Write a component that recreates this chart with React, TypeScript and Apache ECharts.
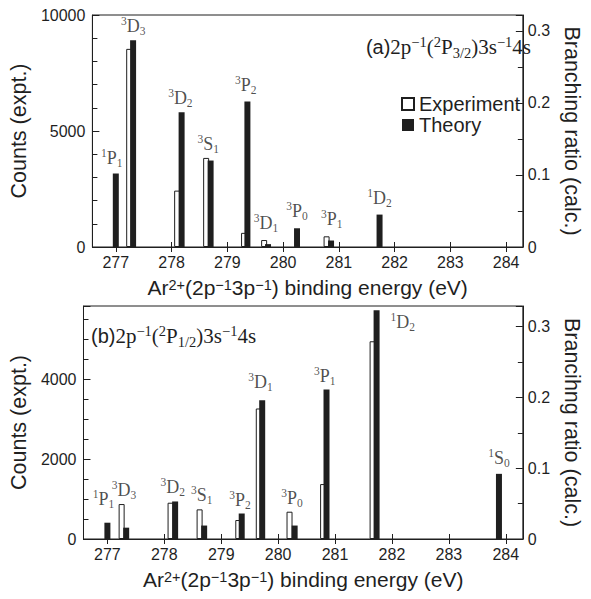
import React, { useEffect, useRef } from "react";
import * as echarts from "echarts";

// Binding-energy tick positions (eV)
const energyTicks = [277, 278, 279, 280, 281, 282, 283, 284];
const energyMin = 276.58;
const energyMax = 284.3;

// Panel (a): 2p^-1(2P3/2)3s^-1 4s final states
const termsA = ["1P1", "3D3", "3D2", "3S1", "3P2", "3D1", "3P0", "3P1", "1D2"];
const expEnergyA: (number | null)[] = [null, 277.24, 278.1, 278.62, 279.3, 279.66, null, 280.78, null];
const expCountsA: (number | null)[] = [null, 8540, 2430, 3840, 610, 300, null, 460, null];
const thEnergyA = [277.0, 277.31, 278.18, 278.7, 279.36, 279.73, 280.25, 280.86, 281.73];
const thRatioA = [0.102, 0.287, 0.187, 0.12, 0.202, 0.004, 0.026, 0.009, 0.045];

// Panel (b): 2p^-1(2P1/2)3s^-1 4s final states
const termsB = ["1P1", "3D3", "3D2", "3S1", "3P2", "3D1", "3P0", "3P1", "1D2", "1S0"];
const expEnergyB: (number | null)[] = [null, 277.25, 278.11, 278.62, 279.3, 279.66, 280.2, 280.79, 281.66, null];
const expCountsB: (number | null)[] = [null, 875, 908, 742, 475, 3267, 683, 1375, 4950, null];
const thEnergyB = [277.0, 277.33, 278.19, 278.7, 279.36, 279.72, 280.29, 280.85, 281.73, 283.88];
const thRatioB = [0.023, 0.016, 0.053, 0.019, 0.036, 0.196, 0.019, 0.211, 0.323, 0.092];

// Axis ranges
const countsMaxA = 10000;
const ratioMaxA = 0.322;
const countsMaxB = 5833;
const ratioMaxB = 0.329;

const SANS = "Liberation Sans, Arial, sans-serif";
const SERIF = "Liberation Serif, Times New Roman, serif";
const INK = "#1f1f1f";

// Per-label placement tweaks (pixels)
const labelNudge: Record<string, { dx?: number; dy?: number; dist?: number; pos?: string }> = {
  "a:1P1": { dx: -4, dist: 5 },
  "a:3D3": { dx: 2 },
  "a:3D2": { dx: 1 },
  "a:3D1": { dist: 6 },
  "a:3P0": { dist: 6 },
  "a:3P1": { dx: 3, dist: 6 },
  "a:1D2": { dist: 6 },
  "a:3P2": { dist: 5 },
  "b:1P1": { dx: -4, dist: 13 },
  "b:3D1": { dist: 7 },
  "b:1S0": { dist: 5 },
  "b:1D2": { pos: "right", dist: 7, dx: 9, dy: 12 },
};

const termRich = {
  m: { fontFamily: SERIF, fontSize: 18, color: INK, lineHeight: 22 },
  u: { fontFamily: SERIF, fontSize: 11.5, color: INK, lineHeight: 12, verticalAlign: "top" },
  d: { fontFamily: SERIF, fontSize: 11.5, color: INK, lineHeight: 12, verticalAlign: "bottom" },
};

const termText = (t: string) => `{u|${t[0]}}{m|${t[1]}}{d|${t.slice(2)}}`;

const titleRich = {
  s: { fontFamily: SANS, fontSize: 20, color: INK, lineHeight: 26 },
  u: { fontFamily: SERIF, fontSize: 14.5, color: INK, lineHeight: 14, verticalAlign: "top" },
  d: { fontFamily: SERIF, fontSize: 14.5, color: INK, lineHeight: 14, verticalAlign: "bottom" },
};

const xNameRich = {
  u: { fontFamily: SANS, fontSize: 14.5, color: INK, lineHeight: 14, verticalAlign: "top" },
};

function panelSeries(
  p: number,
  key: string,
  terms: string[],
  expE: (number | null)[],
  expC: (number | null)[],
  thE: number[],
  thR: number[],
  cMax: number,
  rMax: number
) {
  const expData = expE
    .map((e, i) => (e == null ? null : [e, expC[i] as number]))
    .filter((d) => d !== null);
  const thData = thE.map((e, i) => [e, thR[i]]);
  const labelData = terms.map((t, i) => {
    const xs = [thE[i]];
    if (expE[i] != null) xs.push(expE[i] as number);
    const x = xs.reduce((a, b) => a + b, 0) / xs.length;
    const y = Math.max(expC[i] ?? 0, (thR[i] * cMax) / rMax);
    const n = labelNudge[`${key}:${t}`] || {};
    return {
      value: [x, y],
      name: t,
      label: {
        position: n.pos || "top",
        distance: n.dist ?? 3,
        offset: [n.dx || 0, n.dy || 0],
      },
    };
  });
  return [
    {
      type: "bar",
      name: "Experiment",
      xAxisIndex: 2 * p,
      yAxisIndex: 2 * p,
      data: expData,
      barWidth: 6,
      barGap: "-100%",
      itemStyle: { color: "#ffffff", borderColor: INK, borderWidth: 1 },
      z: 2,
    },
    {
      type: "bar",
      name: "Theory",
      xAxisIndex: 2 * p,
      yAxisIndex: 2 * p + 1,
      data: thData,
      barWidth: 6,
      barGap: "-100%",
      itemStyle: { color: INK },
      z: 3,
    },
    {
      type: "scatter",
      xAxisIndex: 2 * p,
      yAxisIndex: 2 * p,
      data: labelData,
      symbolSize: 0,
      silent: true,
      z: 5,
      label: {
        show: true,
        formatter: (d: any) => termText(d.name),
        rich: termRich,
      },
    },
  ];
}

function energyAxes(grid: number) {
  return [
    {
      type: "value",
      gridIndex: grid,
      min: energyMin,
      max: energyMax,
      position: "bottom",
      name: "Ar{u|2+}(2p{u|\u22121}3p{u|\u22121}) binding energy (eV)",
      nameLocation: "middle",
      nameGap: 30,
      nameTextStyle: { fontFamily: SANS, fontSize: 21, color: INK, rich: xNameRich },
      axisLine: { show: true, lineStyle: { color: INK, width: 1 } },
      axisTick: { show: true, inside: true, length: 5, customValues: energyTicks, lineStyle: { color: INK } },
      axisLabel: { show: true, customValues: energyTicks, fontFamily: SANS, fontSize: 16, color: INK, margin: 7 },
      splitLine: { show: false },
    },
    {
      type: "value",
      gridIndex: grid,
      min: energyMin,
      max: energyMax,
      position: "top",
      axisLine: { show: true, lineStyle: { color: INK, width: 1 } },
      axisTick: { show: true, inside: true, length: 5, customValues: energyTicks, lineStyle: { color: INK } },
      axisLabel: { show: false },
      splitLine: { show: false },
    },
  ];
}

function countsAxis(grid: number, max: number, interval: number, minorSplit: number, nameText: string) {
  return {
    type: "value",
    gridIndex: grid,
    position: "left",
    min: 0,
    max,
    interval,
    name: nameText,
    nameLocation: "middle",
    nameGap: 41,
    nameTextStyle: { fontFamily: SANS, fontSize: 21.5, color: INK },
    axisLine: { show: true, lineStyle: { color: INK } },
    axisTick: { show: true, inside: true, length: 7, lineStyle: { color: INK } },
    minorTick: { show: true, splitNumber: minorSplit, length: 5, lineStyle: { color: INK } },
    axisLabel: {
      fontFamily: SANS,
      fontSize: 16,
      color: INK,
      margin: 7,
      formatter: (v: number) => (Math.abs(v / interval - Math.round(v / interval)) < 1e-6 ? String(Math.round(v)) : ""),
    },
    splitLine: { show: false },
    minorSplitLine: { show: false },
  };
}

function ratioAxis(grid: number, max: number, nameText: string) {
  return {
    type: "value",
    gridIndex: grid,
    position: "right",
    min: 0,
    max,
    interval: 0.1,
    name: nameText,
    nameLocation: "middle",
    nameRotate: -90,
    nameGap: 29,
    nameTextStyle: { fontFamily: SANS, fontSize: 21.5, color: INK },
    axisLine: { show: true, lineStyle: { color: INK } },
    axisTick: { show: true, inside: true, length: 7, lineStyle: { color: INK } },
    minorTick: { show: true, splitNumber: 2, length: 5, lineStyle: { color: INK } },
    axisLabel: {
      fontFamily: SANS,
      fontSize: 16,
      color: INK,
      margin: 5,
      formatter: (v: number) => {
        const k = v * 10;
        if (Math.abs(k - Math.round(k)) > 1e-6) return "";
        return v === 0 ? "0" : (Math.round(k) / 10).toFixed(1);
      },
    },
    splitLine: { show: false },
    minorSplitLine: { show: false },
  };
}

export default function App() {
  const ref = useRef<HTMLDivElement>(null);

  useEffect(() => {
    if (!ref.current) return;
    const chart = echarts.init(ref.current, undefined, { renderer: "svg" });
    const titleStyle = {
      fontFamily: SERIF,
      fontSize: 21,
      fontWeight: "normal",
      color: INK,
      lineHeight: 26,
      rich: titleRich,
    };
    const option: any = {
      animation: false,
      backgroundColor: "#ffffff",
      grid: [
        { left: 73, top: 15, width: 469, height: 232, show: true, borderColor: INK, borderWidth: 1, containLabel: false },
        { left: 73, top: 306, width: 469, height: 233, show: true, borderColor: INK, borderWidth: 1, containLabel: false },
      ],
      title: [
        {
          text: "{s|(a)}2p{u|\u22121}({u|2}P{d|3/2})3s{u|\u22121}4s",
          right: 55,
          top: 29,
          textStyle: titleStyle,
        },
        {
          text: "{s|(b)}2p{u|\u22121}({u|2}P{d|1/2})3s{u|\u22121}4s",
          left: 86,
          top: 318,
          textStyle: titleStyle,
        },
      ],
      legend: {
        data: ["Experiment", "Theory"],
        orient: "vertical",
        left: 396,
        top: 89,
        itemWidth: 12,
        itemHeight: 12,
        itemGap: 1,
        icon: "rect",
        selectedMode: false,
        textStyle: { fontFamily: SANS, fontSize: 20, color: INK },
      },
      xAxis: [...energyAxes(0), ...energyAxes(1)],
      yAxis: [
        countsAxis(0, countsMaxA, 5000, 5, "Counts (expt.)"),
        ratioAxis(0, ratioMaxA, "Branching ratio (calc.)"),
        countsAxis(1, countsMaxB, 2000, 4, "Counts (expt.)"),
        ratioAxis(1, ratioMaxB, "Brancihng ratio (calc.)"),
      ],
      series: [
        ...panelSeries(0, "a", termsA, expEnergyA, expCountsA, thEnergyA, thRatioA, countsMaxA, ratioMaxA),
        ...panelSeries(1, "b", termsB, expEnergyB, expCountsB, thEnergyB, thRatioB, countsMaxB, ratioMaxB),
      ],
    };
    chart.setOption(option);
    return () => chart.dispose();
  }, []);

  return <div ref={ref} style={{ width: 591, height: 599, position: "absolute", left: 0, top: 0 }} />;
}
